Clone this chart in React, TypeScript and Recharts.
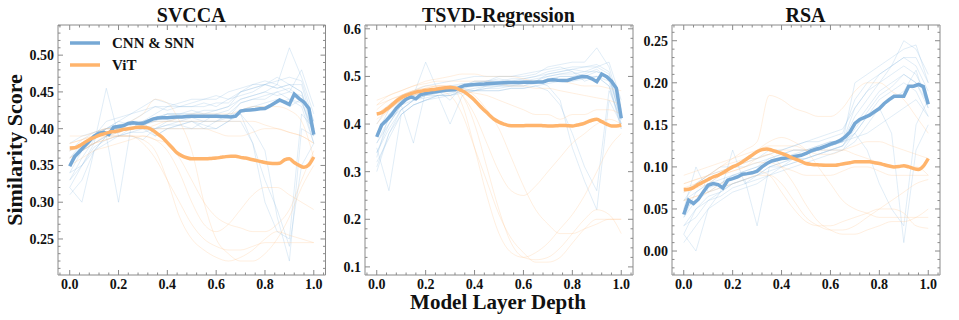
import { LineChart, Line, XAxis, YAxis } from "recharts"

const FONT = '"Liberation Serif", "Times New Roman", serif'
const FRAME = "#8a8a8a"
const BLUE = "#76a8d5"
const ORANGE = "#ffb46c"
const BLUE_FAINT = "#8fbbe0"
const ORANGE_FAINT = "#ffc48c"

// model layer depth grid for the mean curves
const DEPTH = [
  0, 0.02, 0.04, 0.06, 0.08, 0.1, 0.12, 0.14, 0.16, 0.18,
  0.2, 0.22, 0.24, 0.26, 0.28, 0.3, 0.32, 0.34, 0.36, 0.38,
  0.4, 0.42, 0.44, 0.46, 0.48, 0.5, 0.52, 0.54, 0.56, 0.58,
  0.6, 0.62, 0.64, 0.66, 0.68, 0.7, 0.72, 0.74, 0.76, 0.78,
  0.8, 0.82, 0.84, 0.86, 0.88, 0.9, 0.92, 0.94, 0.96, 0.98,
  1.0,
]
// coarser grid for the individual model curves
const DEPTH_FAINT = [
  0, 0.05, 0.1, 0.15, 0.2, 0.25, 0.3, 0.35, 0.4, 0.45, 0.5,
  0.55, 0.6, 0.65, 0.7, 0.75, 0.8, 0.85, 0.9, 0.95, 1.0,
]

const X_TICKS = [
  -0.04, 0, 0.04, 0.08, 0.12, 0.16, 0.2, 0.24, 0.28, 0.32, 0.36, 0.4, 0.44, 0.48,
  0.52, 0.56, 0.6, 0.64, 0.68, 0.72, 0.76, 0.8, 0.84, 0.88, 0.92, 0.96, 1.0, 1.04,
]
const X_MAJOR = [0, 0.2, 0.4, 0.6, 0.8, 1.0]

// ---- SVCCA ----
const SVCCA_CNN = [
  0.349, 0.362, 0.369, 0.376, 0.383, 0.39, 0.394, 0.395, 0.392, 0.402,
  0.403, 0.404, 0.407, 0.408, 0.407, 0.407, 0.41, 0.413, 0.4145, 0.415,
  0.415, 0.4155, 0.416, 0.416, 0.4165, 0.417, 0.417, 0.417, 0.417, 0.417,
  0.417, 0.4165, 0.4165, 0.416, 0.417, 0.424, 0.425, 0.4255, 0.426, 0.427,
  0.4275, 0.431, 0.435, 0.439, 0.436, 0.433, 0.447, 0.441, 0.436, 0.4275,
  0.392,
]
const SVCCA_VIT = [
  0.3737, 0.374, 0.377, 0.381, 0.385, 0.388, 0.391, 0.393, 0.395, 0.396,
  0.397, 0.399, 0.4, 0.401, 0.402, 0.402, 0.401, 0.398, 0.393, 0.388,
  0.381, 0.374, 0.367, 0.363, 0.3605, 0.359, 0.359, 0.359, 0.359, 0.3595,
  0.36, 0.361, 0.362, 0.3625, 0.3625, 0.361, 0.36, 0.3585, 0.357, 0.3555,
  0.354, 0.353, 0.3525, 0.353, 0.3575, 0.359, 0.354, 0.35, 0.3475, 0.351,
  0.3615,
]
const SVCCA_CNN_RUNS = [
  [0.33, 0.36, 0.385, 0.4, 0.41, 0.405, 0.41, 0.415, 0.42, 0.42, 0.425, 0.42, 0.425, 0.43, 0.45, 0.455, 0.46, 0.455, 0.46, 0.45, 0.4],
  [0.36, 0.38, 0.39, 0.4, 0.4, 0.41, 0.42, 0.43, 0.425, 0.43, 0.43, 0.435, 0.43, 0.44, 0.445, 0.45, 0.46, 0.465, 0.47, 0.465, 0.41],
  [0.32, 0.3, 0.37, 0.39, 0.39, 0.395, 0.4, 0.4, 0.405, 0.41, 0.41, 0.405, 0.4, 0.41, 0.42, 0.38, 0.3, 0.26, 0.25, 0.42, 0.4],
  [0.35, 0.37, 0.38, 0.455, 0.39, 0.4, 0.405, 0.4, 0.41, 0.41, 0.415, 0.41, 0.42, 0.415, 0.435, 0.44, 0.445, 0.45, 0.44, 0.435, 0.395],
  [0.31, 0.33, 0.37, 0.38, 0.39, 0.39, 0.385, 0.4, 0.4, 0.405, 0.4, 0.4, 0.41, 0.41, 0.41, 0.38, 0.33, 0.29, 0.24, 0.35, 0.38],
  [0.38, 0.39, 0.395, 0.4, 0.41, 0.42, 0.43, 0.44, 0.435, 0.43, 0.435, 0.44, 0.445, 0.44, 0.45, 0.46, 0.465, 0.46, 0.51, 0.47, 0.42],
  [0.34, 0.35, 0.38, 0.39, 0.3, 0.4, 0.41, 0.39, 0.4, 0.405, 0.41, 0.4, 0.4, 0.41, 0.425, 0.43, 0.435, 0.44, 0.43, 0.44, 0.39],
  [0.37, 0.38, 0.39, 0.395, 0.4, 0.4, 0.41, 0.41, 0.42, 0.42, 0.42, 0.42, 0.42, 0.425, 0.44, 0.445, 0.45, 0.46, 0.45, 0.48, 0.43],
  [0.33, 0.35, 0.37, 0.39, 0.4, 0.4, 0.4, 0.39, 0.4, 0.4, 0.4, 0.41, 0.41, 0.42, 0.42, 0.4, 0.37, 0.28, 0.22, 0.4, 0.39],
  [0.35, 0.38, 0.39, 0.41, 0.415, 0.42, 0.425, 0.43, 0.43, 0.435, 0.44, 0.44, 0.44, 0.45, 0.455, 0.46, 0.46, 0.455, 0.46, 0.46, 0.4],
  [0.36, 0.375, 0.39, 0.4, 0.405, 0.41, 0.41, 0.415, 0.42, 0.42, 0.42, 0.425, 0.425, 0.43, 0.44, 0.445, 0.45, 0.445, 0.45, 0.445, 0.41],
  [0.34, 0.37, 0.38, 0.39, 0.395, 0.4, 0.405, 0.41, 0.41, 0.415, 0.415, 0.415, 0.415, 0.42, 0.435, 0.44, 0.44, 0.45, 0.455, 0.44, 0.38],
  [0.37, 0.385, 0.395, 0.4, 0.405, 0.405, 0.41, 0.42, 0.43, 0.43, 0.43, 0.43, 0.435, 0.435, 0.45, 0.455, 0.46, 0.47, 0.46, 0.45, 0.39],
  [0.32, 0.35, 0.375, 0.385, 0.39, 0.395, 0.395, 0.4, 0.405, 0.405, 0.41, 0.41, 0.41, 0.415, 0.425, 0.43, 0.43, 0.435, 0.44, 0.43, 0.38],
]
const SVCCA_VIT_RUNS = [
  [0.38, 0.385, 0.39, 0.39, 0.395, 0.4, 0.4, 0.405, 0.41, 0.41, 0.41, 0.41, 0.41, 0.41, 0.41, 0.41, 0.405, 0.4, 0.395, 0.39, 0.38],
  [0.37, 0.38, 0.39, 0.4, 0.4, 0.41, 0.42, 0.44, 0.435, 0.41, 0.37, 0.3, 0.25, 0.23, 0.22, 0.22, 0.23, 0.25, 0.28, 0.32, 0.35],
  [0.36, 0.37, 0.38, 0.385, 0.39, 0.39, 0.385, 0.37, 0.33, 0.28, 0.25, 0.235, 0.225, 0.22, 0.225, 0.235, 0.25, 0.26, 0.255, 0.25, 0.245],
  [0.39, 0.39, 0.395, 0.4, 0.4, 0.4, 0.405, 0.41, 0.41, 0.415, 0.42, 0.42, 0.42, 0.42, 0.425, 0.43, 0.43, 0.43, 0.425, 0.41, 0.36],
  [0.35, 0.36, 0.37, 0.375, 0.38, 0.385, 0.39, 0.385, 0.37, 0.34, 0.3, 0.27, 0.26, 0.27, 0.29, 0.31, 0.32, 0.32, 0.31, 0.3, 0.29],
  [0.37, 0.375, 0.38, 0.385, 0.39, 0.39, 0.39, 0.385, 0.38, 0.36, 0.33, 0.3, 0.28, 0.27, 0.265, 0.26, 0.26, 0.27, 0.29, 0.33, 0.37],
  [0.38, 0.385, 0.39, 0.395, 0.4, 0.4, 0.4, 0.4, 0.4, 0.4, 0.4, 0.4, 0.395, 0.39, 0.39, 0.395, 0.4, 0.4, 0.395, 0.39, 0.38],
  [0.36, 0.37, 0.38, 0.39, 0.39, 0.39, 0.38, 0.36, 0.33, 0.3, 0.27, 0.25, 0.24, 0.235, 0.235, 0.24, 0.245, 0.245, 0.245, 0.245, 0.245],
]

// ---- TSVD-Regression ----
const TSVD_CNN = [
  0.373, 0.398, 0.408, 0.419, 0.433, 0.443, 0.452, 0.457, 0.453, 0.462,
  0.464, 0.466, 0.468, 0.4695, 0.471, 0.4715, 0.472, 0.477, 0.481, 0.482,
  0.483, 0.4835, 0.484, 0.485, 0.4855, 0.486, 0.4865, 0.487, 0.487, 0.4875,
  0.488, 0.488, 0.488, 0.4885, 0.4885, 0.492, 0.493, 0.492, 0.4915, 0.4915,
  0.495, 0.4975, 0.5, 0.4995, 0.495, 0.489, 0.505, 0.4995, 0.49, 0.475,
  0.412,
]
const TSVD_VIT = [
  0.421, 0.424, 0.431, 0.439, 0.448, 0.455, 0.46, 0.464, 0.467, 0.469,
  0.471, 0.472, 0.473, 0.4745, 0.476, 0.477, 0.476, 0.472, 0.467, 0.459,
  0.45, 0.439, 0.429, 0.419, 0.41, 0.404, 0.4, 0.397, 0.3965, 0.3965,
  0.3965, 0.397, 0.397, 0.397, 0.3965, 0.396, 0.396, 0.3965, 0.397, 0.3965,
  0.396, 0.398, 0.4, 0.404, 0.408, 0.41, 0.405, 0.4, 0.396, 0.396,
  0.398,
]
const TSVD_CNN_RUNS = [
  [0.33, 0.42, 0.45, 0.46, 0.465, 0.47, 0.475, 0.48, 0.485, 0.49, 0.49, 0.495, 0.495, 0.5, 0.51, 0.515, 0.52, 0.52, 0.525, 0.51, 0.42],
  [0.3, 0.38, 0.43, 0.45, 0.46, 0.46, 0.465, 0.47, 0.47, 0.475, 0.48, 0.48, 0.48, 0.49, 0.48, 0.45, 0.35, 0.28, 0.22, 0.45, 0.4],
  [0.36, 0.4, 0.44, 0.36, 0.47, 0.47, 0.45, 0.48, 0.49, 0.49, 0.5, 0.5, 0.5, 0.505, 0.52, 0.525, 0.53, 0.53, 0.56, 0.52, 0.43],
  [0.35, 0.26, 0.42, 0.44, 0.45, 0.46, 0.46, 0.47, 0.47, 0.475, 0.475, 0.48, 0.48, 0.485, 0.49, 0.5, 0.5, 0.5, 0.51, 0.5, 0.41],
  [0.4, 0.44, 0.46, 0.47, 0.48, 0.485, 0.49, 0.495, 0.5, 0.5, 0.5, 0.5, 0.505, 0.51, 0.515, 0.52, 0.51, 0.49, 0.5, 0.49, 0.39],
  [0.32, 0.37, 0.42, 0.44, 0.45, 0.46, 0.4, 0.46, 0.47, 0.47, 0.47, 0.475, 0.475, 0.48, 0.47, 0.44, 0.38, 0.31, 0.26, 0.47, 0.41],
  [0.38, 0.42, 0.44, 0.46, 0.53, 0.47, 0.48, 0.48, 0.49, 0.49, 0.495, 0.49, 0.495, 0.5, 0.505, 0.51, 0.515, 0.51, 0.52, 0.53, 0.45],
  [0.34, 0.39, 0.43, 0.45, 0.46, 0.465, 0.47, 0.475, 0.47, 0.48, 0.48, 0.485, 0.485, 0.49, 0.5, 0.505, 0.51, 0.5, 0.5, 0.48, 0.4],
  [0.38, 0.43, 0.45, 0.46, 0.47, 0.475, 0.48, 0.485, 0.485, 0.49, 0.49, 0.49, 0.49, 0.495, 0.5, 0.505, 0.505, 0.51, 0.51, 0.5, 0.42],
  [0.34, 0.4, 0.44, 0.45, 0.46, 0.465, 0.47, 0.475, 0.48, 0.48, 0.485, 0.485, 0.49, 0.49, 0.505, 0.51, 0.515, 0.52, 0.52, 0.505, 0.4],
  [0.36, 0.41, 0.43, 0.45, 0.455, 0.46, 0.46, 0.465, 0.47, 0.47, 0.47, 0.475, 0.475, 0.48, 0.485, 0.49, 0.49, 0.495, 0.5, 0.48, 0.39],
  [0.31, 0.38, 0.42, 0.44, 0.45, 0.455, 0.46, 0.47, 0.475, 0.48, 0.48, 0.48, 0.485, 0.485, 0.495, 0.5, 0.5, 0.505, 0.515, 0.495, 0.41],
]
const TSVD_VIT_RUNS = [
  [0.44, 0.46, 0.47, 0.48, 0.49, 0.495, 0.5, 0.505, 0.505, 0.5, 0.5, 0.5, 0.495, 0.49, 0.49, 0.49, 0.485, 0.48, 0.48, 0.475, 0.47],
  [0.42, 0.44, 0.46, 0.47, 0.475, 0.48, 0.48, 0.44, 0.35, 0.25, 0.17, 0.13, 0.12, 0.13, 0.15, 0.18, 0.21, 0.25, 0.3, 0.35, 0.38],
  [0.4, 0.43, 0.45, 0.46, 0.47, 0.47, 0.46, 0.42, 0.35, 0.28, 0.21, 0.16, 0.13, 0.11, 0.11, 0.12, 0.15, 0.18, 0.2, 0.2, 0.2],
  [0.45, 0.46, 0.47, 0.48, 0.485, 0.49, 0.49, 0.49, 0.49, 0.49, 0.485, 0.48, 0.48, 0.475, 0.475, 0.47, 0.465, 0.46, 0.455, 0.45, 0.44],
  [0.41, 0.43, 0.45, 0.46, 0.465, 0.47, 0.475, 0.46, 0.42, 0.36, 0.3, 0.26, 0.25, 0.27, 0.3, 0.33, 0.36, 0.38, 0.4, 0.41, 0.4],
  [0.43, 0.45, 0.46, 0.47, 0.48, 0.48, 0.48, 0.475, 0.46, 0.43, 0.39, 0.33, 0.27, 0.22, 0.19, 0.17, 0.17, 0.18, 0.19, 0.2, 0.2],
  [0.42, 0.44, 0.455, 0.465, 0.47, 0.475, 0.475, 0.47, 0.465, 0.46, 0.45, 0.44, 0.43, 0.42, 0.42, 0.41, 0.42, 0.42, 0.43, 0.43, 0.42],
  [0.44, 0.45, 0.46, 0.47, 0.475, 0.48, 0.48, 0.46, 0.4, 0.31, 0.22, 0.15, 0.12, 0.115, 0.12, 0.14, 0.17, 0.2, 0.22, 0.21, 0.17],
]

// ---- RSA ----
const RSA_CNN = [
  0.0434, 0.0604, 0.0565, 0.0616, 0.0703, 0.0782, 0.0802, 0.079, 0.075, 0.0842,
  0.086, 0.088, 0.0913, 0.092, 0.093, 0.095, 0.1, 0.104, 0.107, 0.1085,
  0.11, 0.1107, 0.1114, 0.1126, 0.1138, 0.116, 0.119, 0.121, 0.1225, 0.1248,
  0.127, 0.129, 0.1315, 0.1357, 0.1416, 0.1516, 0.1564, 0.159, 0.1615, 0.1655,
  0.1694, 0.1754, 0.18, 0.184, 0.184, 0.184, 0.196, 0.196, 0.198, 0.1955,
  0.1745,
]
const RSA_VIT = [
  0.073, 0.0734, 0.0754, 0.079, 0.082, 0.085, 0.088, 0.09, 0.093, 0.0965,
  0.1, 0.1025, 0.106, 0.11, 0.114, 0.118, 0.1205, 0.1214, 0.12, 0.118,
  0.116, 0.114, 0.111, 0.109, 0.1066, 0.104, 0.103, 0.1026, 0.1022, 0.102,
  0.102, 0.102, 0.103, 0.104, 0.105, 0.106, 0.106, 0.106, 0.106, 0.105,
  0.104, 0.1025, 0.101, 0.1, 0.1005, 0.1015, 0.1, 0.098, 0.097, 0.101,
  0.11,
]
const RSA_CNN_RUNS = [
  [0.04, 0.07, 0.08, 0.09, 0.1, 0.105, 0.11, 0.115, 0.12, 0.125, 0.13, 0.13, 0.135, 0.14, 0.18, 0.2, 0.21, 0.22, 0.23, 0.22, 0.19],
  [0.02, 0.0, 0.05, 0.07, 0.08, 0.085, 0.09, 0.1, 0.105, 0.11, 0.11, 0.115, 0.12, 0.125, 0.15, 0.17, 0.19, 0.2, 0.21, 0.2, 0.17],
  [0.05, 0.1, 0.07, 0.08, 0.09, 0.095, 0.1, 0.11, 0.115, 0.12, 0.12, 0.125, 0.13, 0.13, 0.14, 0.12, 0.08, 0.05, 0.03, 0.15, 0.18],
  [0.03, 0.05, 0.06, 0.07, 0.12, 0.08, 0.085, 0.09, 0.1, 0.11, 0.115, 0.12, 0.125, 0.13, 0.2, 0.21, 0.22, 0.23, 0.24, 0.245, 0.2],
  [0.06, 0.08, 0.09, 0.095, 0.1, 0.1, 0.105, 0.11, 0.115, 0.12, 0.12, 0.125, 0.13, 0.13, 0.135, 0.14, 0.15, 0.16, 0.17, 0.18, 0.16],
  [0.01, 0.03, 0.05, 0.06, 0.07, 0.075, 0.08, 0.09, 0.095, 0.1, 0.105, 0.11, 0.115, 0.12, 0.13, 0.15, 0.17, 0.14, 0.01, 0.12, 0.15],
  [0.07, 0.08, 0.09, 0.1, 0.1, 0.11, 0.11, 0.12, 0.12, 0.125, 0.13, 0.135, 0.14, 0.145, 0.17, 0.19, 0.2, 0.22, 0.25, 0.24, 0.21],
  [0.04, 0.06, 0.07, 0.075, 0.08, 0.085, 0.03, 0.1, 0.1, 0.105, 0.11, 0.115, 0.12, 0.12, 0.14, 0.16, 0.18, 0.19, 0.2, 0.19, 0.16],
  [0.05, 0.06, 0.075, 0.08, 0.09, 0.09, 0.095, 0.105, 0.11, 0.115, 0.115, 0.12, 0.125, 0.13, 0.16, 0.18, 0.2, 0.21, 0.22, 0.21, 0.18],
  [0.03, 0.04, 0.06, 0.065, 0.075, 0.08, 0.09, 0.095, 0.1, 0.105, 0.11, 0.115, 0.12, 0.125, 0.14, 0.16, 0.17, 0.18, 0.19, 0.215, 0.17],
  [0.06, 0.07, 0.08, 0.085, 0.09, 0.095, 0.1, 0.105, 0.11, 0.115, 0.12, 0.12, 0.125, 0.13, 0.17, 0.19, 0.21, 0.22, 0.23, 0.23, 0.2],
  [0.02, 0.05, 0.065, 0.07, 0.08, 0.085, 0.09, 0.1, 0.105, 0.11, 0.115, 0.12, 0.12, 0.125, 0.145, 0.165, 0.185, 0.195, 0.21, 0.2, 0.175],
]
const RSA_VIT_RUNS = [
  [0.08, 0.085, 0.09, 0.1, 0.11, 0.12, 0.13, 0.185, 0.18, 0.17, 0.165, 0.16, 0.16, 0.17, 0.19, 0.2, 0.2, 0.19, 0.18, 0.16, 0.14],
  [0.07, 0.075, 0.08, 0.09, 0.095, 0.1, 0.11, 0.115, 0.1, 0.08, 0.055, 0.035, 0.025, 0.02, 0.02, 0.025, 0.03, 0.035, 0.035, 0.04, 0.05],
  [0.08, 0.085, 0.09, 0.095, 0.1, 0.105, 0.11, 0.115, 0.12, 0.12, 0.12, 0.12, 0.12, 0.12, 0.115, 0.11, 0.105, 0.1, 0.1, 0.1, 0.09],
  [0.06, 0.065, 0.07, 0.075, 0.08, 0.085, 0.09, 0.09, 0.08, 0.06, 0.04, 0.03, 0.025, 0.025, 0.03, 0.04, 0.05, 0.06, 0.07, 0.08, 0.085],
  [0.09, 0.095, 0.1, 0.105, 0.11, 0.115, 0.12, 0.125, 0.125, 0.125, 0.12, 0.115, 0.115, 0.12, 0.125, 0.13, 0.13, 0.125, 0.12, 0.115, 0.11],
  [0.07, 0.08, 0.09, 0.1, 0.105, 0.11, 0.12, 0.13, 0.135, 0.13, 0.12, 0.1, 0.08, 0.06, 0.05, 0.045, 0.04, 0.04, 0.04, 0.04, 0.04],
  [0.075, 0.08, 0.085, 0.09, 0.095, 0.1, 0.105, 0.105, 0.1, 0.095, 0.09, 0.09, 0.09, 0.095, 0.1, 0.1, 0.095, 0.09, 0.09, 0.09, 0.09],
  [0.06, 0.065, 0.07, 0.08, 0.085, 0.09, 0.095, 0.09, 0.07, 0.05, 0.035, 0.03, 0.03, 0.035, 0.04, 0.045, 0.05, 0.05, 0.045, 0.03, 0.027],
]

const SVCCA_TICKS = [
  0.21, 0.22, 0.23, 0.24, 0.25, 0.26, 0.27, 0.28, 0.29, 0.3, 0.31, 0.32, 0.33, 0.34, 0.35, 0.36, 0.37,
  0.38, 0.39, 0.4, 0.41, 0.42, 0.43, 0.44, 0.45, 0.46, 0.47, 0.48, 0.49, 0.5, 0.51, 0.52, 0.53, 0.54,
]
const SVCCA_MAJOR = [0.25, 0.3, 0.35, 0.4, 0.45, 0.5]
const TSVD_TICKS = [
  0.1, 0.12, 0.14, 0.16, 0.18, 0.2, 0.22, 0.24, 0.26, 0.28, 0.3, 0.32, 0.34, 0.36, 0.38,
  0.4, 0.42, 0.44, 0.46, 0.48, 0.5, 0.52, 0.54, 0.56, 0.58, 0.6,
]
const TSVD_MAJOR = [0.1, 0.2, 0.3, 0.4, 0.5, 0.6]
const RSA_TICKS = [
  -0.02, -0.01, 0, 0.01, 0.02, 0.03, 0.04, 0.05, 0.06, 0.07, 0.08, 0.09, 0.1, 0.11, 0.12,
  0.13, 0.14, 0.15, 0.16, 0.17, 0.18, 0.19, 0.2, 0.21, 0.22, 0.23, 0.24, 0.25, 0.26,
]
const RSA_MAJOR = [0, 0.05, 0.1, 0.15, 0.2, 0.25]

const toPts = (xs: number[], ys: number[]) => xs.map((x, i) => ({ x, y: ys[i] }))
const near = (list: number[], v: number) => list.some((m) => Math.abs(m - v) < 1e-6)

const labelStyle = { fontFamily: FONT, fontWeight: 700, fontSize: 14, fill: "#111" }

function makeTick(side: string, majors: number[], digits: number) {
  return (p: any) => {
    const { x, y, payload } = p
    const v = payload.value
    const major = near(majors, v)
    const len = major ? 5 : 2.5
    let line
    if (side === "left") line = <line x1={x} y1={y} x2={x + len} y2={y} stroke={FRAME} />
    else if (side === "right") line = <line x1={x} y1={y} x2={x - len} y2={y} stroke={FRAME} />
    else if (side === "bottom") line = <line x1={x} y1={y} x2={x} y2={y - len} stroke={FRAME} />
    else line = <line x1={x} y1={y} x2={x} y2={y + len} stroke={FRAME} />
    return (
      <g>
        {line}
        {major && side === "left" && (
          <text x={x - 4} y={y + 5} textAnchor="end" {...labelStyle}>
            {v.toFixed(digits)}
          </text>
        )}
        {major && side === "bottom" && (
          <text x={x} y={y + 13.5} textAnchor="middle" {...labelStyle}>
            {v.toFixed(digits)}
          </text>
        )}
      </g>
    )
  }
}

type PanelProps = {
  left: number
  width: number
  yDomain: [number, number]
  yTicks: number[]
  yMajor: number[]
  digits: number
  cnn: number[]
  vit: number[]
  cnnRuns: number[][]
  vitRuns: number[][]
}

function Panel({ left, width, yDomain, yTicks, yMajor, digits, cnn, vit, cnnRuns, vitRuns }: PanelProps) {
  const xDomain: [number, number] = [-0.048, 1.048]
  return (
    <div style={{ position: "absolute", left: left - 50, top: 0 }}>
      <LineChart width={width + 55} height={320} margin={{ top: 24, right: 4, bottom: 15, left: 0 }}>
        <XAxis
          xAxisId="b"
          dataKey="x"
          type="number"
          domain={xDomain}
          allowDataOverflow
          ticks={X_TICKS}
          interval={0}
          height={30}
          tickSize={0}
          tickMargin={0}
          axisLine={{ stroke: FRAME }}
          tick={makeTick("bottom", X_MAJOR, 1)}
        />
        <XAxis
          xAxisId="t"
          orientation="top"
          dataKey="x"
          type="number"
          domain={xDomain}
          allowDataOverflow
          ticks={X_TICKS}
          interval={0}
          height={1}
          tickSize={0}
          tickMargin={0}
          axisLine={{ stroke: FRAME }}
          tick={makeTick("top", X_MAJOR, 1)}
        />
        <YAxis
          yAxisId="l"
          type="number"
          domain={yDomain}
          allowDataOverflow
          ticks={yTicks}
          interval={0}
          width={50}
          tickSize={0}
          tickMargin={0}
          axisLine={{ stroke: FRAME }}
          tick={makeTick("left", yMajor, digits)}
        />
        <YAxis
          yAxisId="r"
          orientation="right"
          type="number"
          domain={yDomain}
          allowDataOverflow
          ticks={yTicks}
          interval={0}
          width={1}
          tickSize={0}
          tickMargin={0}
          axisLine={{ stroke: FRAME }}
          tick={makeTick("right", yMajor, digits)}
        />
        {cnnRuns.map((r, i) => (
          <Line
            key={"cb" + i}
            xAxisId="b"
            yAxisId="l"
            data={toPts(DEPTH_FAINT, r)}
            dataKey="y"
            type="linear"
            stroke={BLUE_FAINT}
            strokeOpacity={0.3}
            strokeWidth={0.9}
            dot={false}
            isAnimationActive={false}
          />
        ))}
        {vitRuns.map((r, i) => (
          <Line
            key={"vo" + i}
            xAxisId="b"
            yAxisId="l"
            data={toPts(DEPTH_FAINT, r)}
            dataKey="y"
            type="monotone"
            stroke={ORANGE_FAINT}
            strokeOpacity={0.3}
            strokeWidth={0.9}
            dot={false}
            isAnimationActive={false}
          />
        ))}
        <Line
          xAxisId="b"
          yAxisId="l"
          data={toPts(DEPTH, cnn)}
          dataKey="y"
          type="linear"
          stroke={BLUE}
          strokeWidth={3.5}
          dot={false}
          isAnimationActive={false}
        />
        <Line
          xAxisId="b"
          yAxisId="l"
          data={toPts(DEPTH, vit)}
          dataKey="y"
          type="monotone"
          stroke={ORANGE}
          strokeWidth={3.5}
          dot={false}
          isAnimationActive={false}
        />
      </LineChart>
    </div>
  )
}

const PANELS = [
  { title: "SVCCA", left: 57.5, width: 267.5 },
  { title: "TSVD-Regression", left: 364.5, width: 268 },
  { title: "RSA", left: 671.5, width: 268 },
]

export default function App() {
  const text = { fontFamily: FONT, fontWeight: 700, fill: "#111" }
  return (
    <div style={{ position: "absolute", left: 0, top: 0, width: 959, height: 320, background: "#fff", overflow: "hidden" }}>
      <Panel
        left={PANELS[0].left}
        width={PANELS[0].width}
        yDomain={[0.201, 0.541]}
        yTicks={SVCCA_TICKS}
        yMajor={SVCCA_MAJOR}
        digits={2}
        cnn={SVCCA_CNN}
        vit={SVCCA_VIT}
        cnnRuns={SVCCA_CNN_RUNS}
        vitRuns={SVCCA_VIT_RUNS}
      />
      <Panel
        left={PANELS[1].left}
        width={PANELS[1].width}
        yDomain={[0.083, 0.608]}
        yTicks={TSVD_TICKS}
        yMajor={TSVD_MAJOR}
        digits={1}
        cnn={TSVD_CNN}
        vit={TSVD_VIT}
        cnnRuns={TSVD_CNN_RUNS}
        vitRuns={TSVD_VIT_RUNS}
      />
      <Panel
        left={PANELS[2].left}
        width={PANELS[2].width}
        yDomain={[-0.0285, 0.2687]}
        yTicks={RSA_TICKS}
        yMajor={RSA_MAJOR}
        digits={2}
        cnn={RSA_CNN}
        vit={RSA_VIT}
        cnnRuns={RSA_CNN_RUNS}
        vitRuns={RSA_VIT_RUNS}
      />
      <svg width={959} height={320} style={{ position: "absolute", left: 0, top: 0, pointerEvents: "none" }}>
        {PANELS.map((p) => (
          <text key={p.title} x={p.left + p.width / 2} y={22} textAnchor="middle" fontSize={20} {...text}>
            {p.title}
          </text>
        ))}
        <text x={22} y={150} transform="rotate(-90 22 150)" textAnchor="middle" fontSize={22} {...text}>
          Similarity Score
        </text>
        <text x={498} y={309} textAnchor="middle" fontSize={21} {...text}>
          Model Layer Depth
        </text>
        <line x1={70} y1={43} x2={100} y2={43} stroke={BLUE} strokeWidth={3.5} />
        <text x={112} y={48} fontSize={15} {...text}>
          CNN &amp; SNN
        </text>
        <line x1={70} y1={65} x2={100} y2={65} stroke={ORANGE} strokeWidth={3.5} />
        <text x={112} y={70} fontSize={15} {...text}>
          ViT
        </text>
      </svg>
    </div>
  )
}
